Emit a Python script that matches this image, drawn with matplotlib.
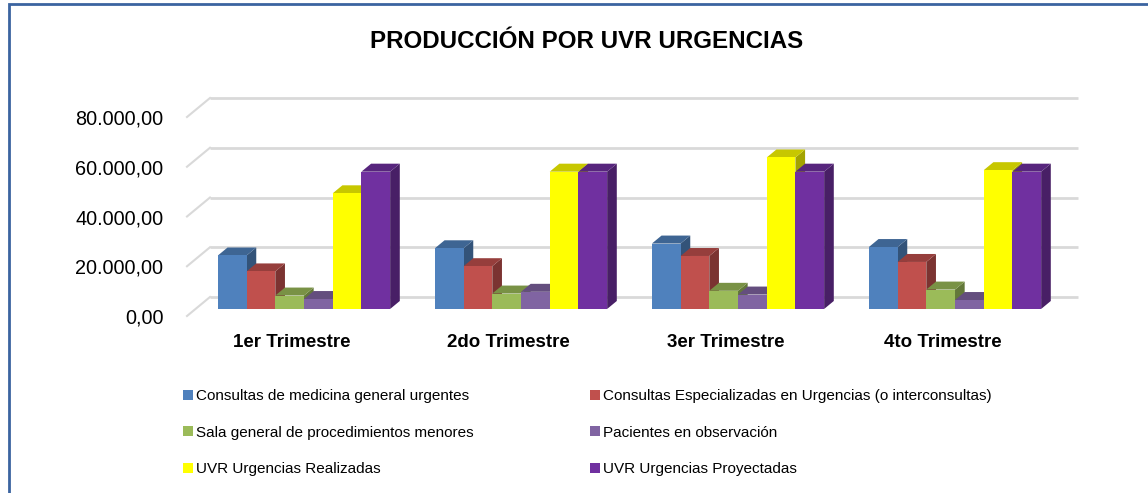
import numpy as np
import matplotlib
matplotlib.use("Agg")
import matplotlib.pyplot as plt
from matplotlib.patches import Polygon, Patch, Rectangle
from matplotlib.ticker import FuncFormatter
from matplotlib.colors import to_rgb
from matplotlib.transforms import ScaledTranslation

plt.rcParams['font.family'] = ['Liberation Sans', 'DejaVu Sans']

# Data
categories = ['1er Trimestre', '2do Trimestre', '3er Trimestre', '4to Trimestre']
series_names = [
  'Consultas de medicina general urgentes',
  'Consultas Especializadas en Urgencias (o interconsultas)',
  'Sala general de procedimientos menores',
  'Pacientes en observación',
  'UVR Urgencias Realizadas',
  'UVR Urgencias Proyectadas',
]
medicina_general = [21500, 24400, 26300, 24900]
especializadas = [15100, 17200, 21300, 18900]
procedimientos = [5400, 6200, 7300, 7800]
observacion = [4000, 6900, 5800, 3600]
uvr_realizadas = [46500, 55200, 60900, 55800]
uvr_proyectadas = [55200, 55200, 55200, 55200]
series_values = [medicina_general, especializadas, procedimientos,
                 observacion, uvr_realizadas, uvr_proyectadas]
colors = ['#4F81BD', '#C0504D', '#9BBB59', '#8064A2', '#FFFF00', '#7030A0']
y_ticks = [0, 20000, 40000, 60000, 80000]


def shade(c, k):
  r, g, b = to_rgb(c)
  return (r * k, g * k, b * k)


def es_format(v, pos=None):
  s = f"{v:,.2f}"
  return s.replace(',', 'X').replace('.', ',').replace('X', '.')


W, H = 1148, 493
fig = plt.figure(figsize=(W / 100, H / 100), dpi=100)
fig.patch.set_facecolor('white')

# front plane of the 3D box, in pixels
left, right, bottom, top = 187, 1055, 316, 117
ax = fig.add_axes([left / W, 1 - bottom / H, (right - left) / W, (bottom - top) / H])
ax.set_xlim(-0.5, len(categories) - 0.5)
ax.set_ylim(0, 80000)
ax.patch.set_alpha(0)
for s in ax.spines.values():
  s.set_visible(False)

# pixel -> data conversion
px_x = (len(categories)) / (right - left)
px_y = 80000 / (bottom - top)
depth = (23, 19)  # wall depth in px
dxw, dyw = depth[0] * px_x, depth[1] * px_y

# back wall gridlines + side wall diagonals
x0, x1 = ax.get_xlim()
for v in y_ticks:
  ax.plot([x0 + dxw, x1 + dxw], [v + dyw, v + dyw], color='#D9D9D9', lw=2,
          clip_on=False, zorder=1, solid_capstyle='butt')
  ax.plot([x0, x0 + dxw], [v, v + dyw], color='#D9D9D9', lw=1.5,
          clip_on=False, zorder=1)

# bars (front, top and side faces)
n = len(series_values)
bw = 0.1323
f_front = 0.37
f_bar = 0.42
bx0, by0 = f_front * dxw, f_front * dyw
bdx, bdy = f_bar * dxw, f_bar * dyw
z = 2
for ci in range(len(categories)):
  for si in range(n):
    v = series_values[si][ci]
    xl = ci + (si - n / 2) * bw + bx0
    xr = xl + bw
    yb = by0
    yt = by0 + v
    c = colors[si]
    side = Polygon([(xr, yb), (xr + bdx, yb + bdy), (xr + bdx, yt + bdy), (xr, yt)],
                   closed=True, facecolor=shade(c, 0.64), edgecolor='none',
                   zorder=z, clip_on=False)
    topf = Polygon([(xl, yt), (xr, yt), (xr + bdx, yt + bdy), (xl + bdx, yt + bdy)],
                   closed=True, facecolor=shade(c, 0.78), edgecolor='none',
                   zorder=z, clip_on=False)
    front = Rectangle((xl, yb), bw, v, facecolor=c, edgecolor='none',
                      zorder=z + 0.5, clip_on=False)
    ax.add_patch(side)
    ax.add_patch(topf)
    ax.add_patch(front)
    z += 1

# axes labels
ax.set_yticks(y_ticks)
ax.yaxis.set_major_formatter(FuncFormatter(es_format))
ax.set_xticks(range(len(categories)))
ax.set_xticklabels(categories, fontweight='bold', fontsize=13.5)
ax.tick_params(axis='y', length=0, pad=17, labelsize=14.3, labelcolor='black')
ax.tick_params(axis='x', length=0, pad=13, labelcolor='black')
shift = ScaledTranslation(-4 / 100, 0, fig.dpi_scale_trans)
for lab in ax.get_xticklabels():
  lab.set_transform(lab.get_transform() + shift)

# title
fig.text(587 / W, 1 - 48 / H, 'PRODUCCIÓN POR UVR URGENCIAS', ha='center', va='baseline',
         fontsize=17.4, fontweight='bold')

# legend, row-major order
handles = [Patch(facecolor=c, edgecolor='none') for c in colors]
order = [0, 2, 4, 1, 3, 5]
fig.legend([handles[i] for i in order], [series_names[i] for i in order],
           ncol=2, loc='upper left', bbox_to_anchor=(183 / W, 1 - 389 / H),
           frameon=False, fontsize=11, borderpad=0, borderaxespad=0,
           handlelength=0.65, handleheight=0.65, handletextpad=0.2,
           labelspacing=1.48, columnspacing=7.6)

# chart border
fig.add_artist(Rectangle((9 / W, -0.1), 1.2, 1 - 4 / H + 0.1, transform=fig.transFigure,
                         facecolor='none', edgecolor='#3B64A0', lw=2))

plt.savefig('out.png', dpi=100)
